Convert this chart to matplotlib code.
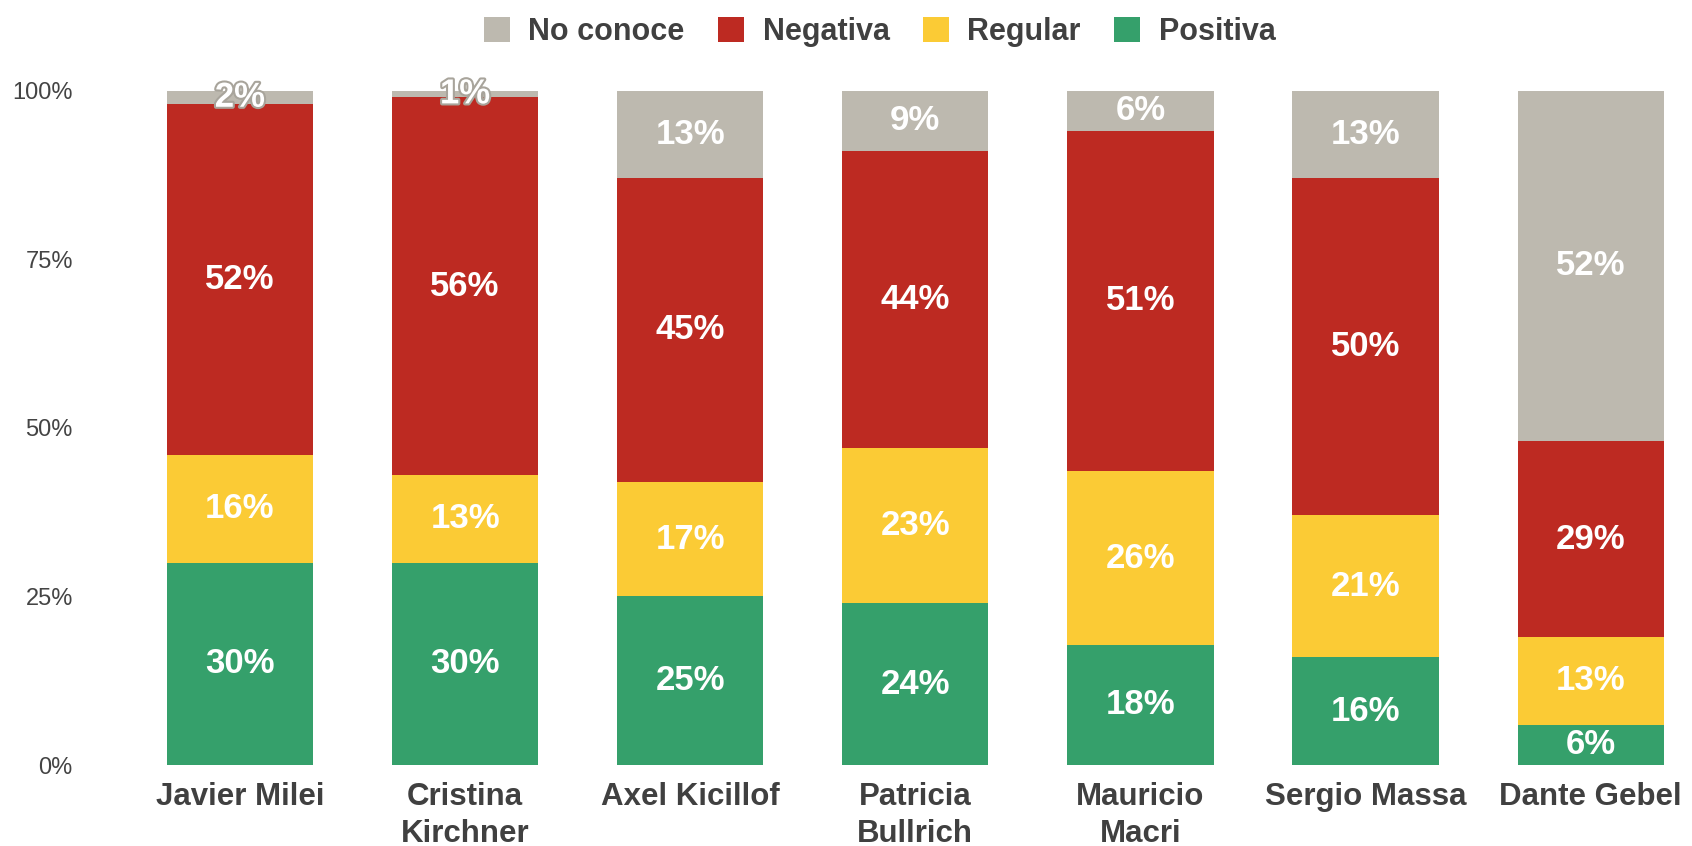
import matplotlib
matplotlib.use("Agg")
import matplotlib.pyplot as plt
import matplotlib.patheffects as pe
import numpy as np

plt.rcParams['font.family'] = ['Liberation Sans', 'DejaVu Sans']

categories = ["Javier Milei", "Cristina\nKirchner", "Axel Kicillof", "Patricia\nBullrich",
              "Mauricio\nMacri", "Sergio Massa", "Dante Gebel"]
positiva = [30, 30, 25, 24, 18, 16, 6]
regular = [16, 13, 17, 23, 26, 21, 13]
negativa = [52, 56, 45, 44, 51, 50, 29]
no_conoce = [2, 1, 13, 9, 6, 13, 52]
series_names = ["Positiva", "Regular", "Negativa", "No conoce"]
series_colors = ["#35A06B", "#FBCB35", "#BD2A22", "#BDB9AF"]
yticks = [0, 25, 50, 75, 100]
ytick_labels = ["0%", "25%", "50%", "75%", "100%"]

fig = plt.figure(figsize=(16.92, 8.46), dpi=100)
ax = fig.add_axes([0.05, 0.0957, 0.95, 0.7973])

series = [positiva, regular, negativa, no_conoce]
totals = np.sum(np.array(series, dtype=float), axis=0)
x = np.arange(len(categories))
bottom = np.zeros(len(categories))
handles = {}
for name, vals, col in zip(series_names, series, series_colors):
    v = np.array(vals, dtype=float)
    h = v / totals * 100
    bars = ax.bar(x, h, bottom=bottom, width=0.65, color=col, label=name, linewidth=0)
    handles[name] = bars
    for xi, b, hi, val in zip(x, bottom, h, vals):
        kw = {}
        if hi < 4:
            kw['path_effects'] = [pe.withStroke(linewidth=3, foreground="#A8A49B")]
        ax.text(xi, b + hi / 2, f"{val}%", ha="center", va="center", color="white",
                fontsize=25, fontweight="bold", **kw)
    bottom += h

ax.set_xlim(-0.69, 6.45)
ax.set_ylim(0, 100)
ax.set_yticks(yticks)
ax.set_yticklabels(ytick_labels, fontsize=17, color="#444444")
ax.set_xticks(x)
ax.set_xticklabels(categories, fontsize=22.5, fontweight="bold", color="#404040", linespacing=1.3)
ax.tick_params(axis='both', length=0)
ax.tick_params(axis='y', pad=8.5)
ax.tick_params(axis='x', pad=12)
for s in ax.spines.values():
    s.set_visible(False)

order = ["No conoce", "Negativa", "Regular", "Positiva"]
leg = fig.legend([handles[n] for n in order], order, loc="center", bbox_to_anchor=(0.52, 0.962),
                 ncol=4, frameon=False, fontsize=22, handlelength=0.85, handleheight=0.85,
                 columnspacing=1.1, handletextpad=0.6)
for t in leg.get_texts():
    t.set_fontweight("bold")
    t.set_color("#404040")

fig.savefig("out.png", dpi=100)
